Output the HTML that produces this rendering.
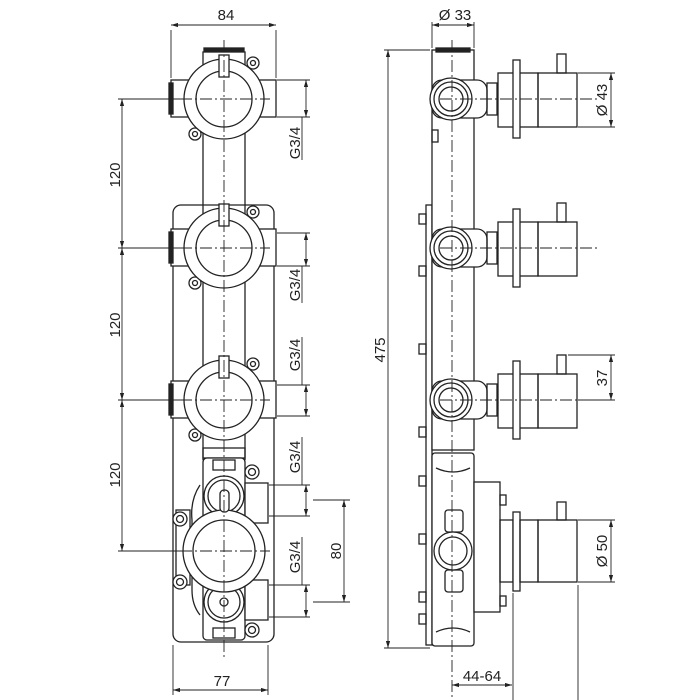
<!DOCTYPE html>
<html><head><meta charset="utf-8"><style>
html,body{margin:0;padding:0;background:#fff;}
svg{display:block;}
text{font-family:"Liberation Sans",sans-serif;font-size:15px;fill:#222;}
</style></head><body>
<svg width="700" height="700" viewBox="0 0 700 700" xmlns="http://www.w3.org/2000/svg">
<defs>
<marker id="a" viewBox="0 0 10 6" refX="10" refY="3" markerWidth="8" markerHeight="5" orient="auto-start-reverse"><path d="M0,0 L10,3 L0,6 z" fill="#222"/></marker>
</defs>
<g fill="none" stroke="#222" stroke-width="1.3">
<rect x="173" y="205" width="101" height="437" rx="8"/>
<line x1="203" y1="130" x2="203" y2="460"/><line x1="245" y1="130" x2="245" y2="460"/>
<rect x="204" y="48" width="40" height="10" fill="#222"/>
<rect x="203" y="52" width="42" height="30" fill="#fff"/>
<g id="v">
<rect x="171" y="80" width="105" height="37" fill="#fff"/>
<rect x="169" y="83" width="4" height="31" fill="#222"/>
<circle cx="253" cy="63" r="6" fill="#fff"/><circle cx="253" cy="63" r="2.5"/>
<circle cx="195" cy="134" r="6" fill="#fff"/><circle cx="195" cy="134" r="2.5"/>
<circle cx="224" cy="99" r="40" fill="#fff"/>
<circle cx="224" cy="99" r="28"/>
<rect x="219" y="55" width="10" height="22" fill="#fff"/>
</g>
<use href="#v" y="149"/>
<use href="#v" y="301"/>
<rect x="203" y="448" width="42" height="10"/>
<rect x="203" y="458" width="42" height="182" rx="4" fill="#fff"/>
<rect x="213" y="460" width="22" height="10"/><rect x="213" y="628" width="22" height="10"/>
<rect x="245" y="483" width="23" height="40" fill="#fff"/>
<rect x="245" y="580" width="23" height="40" fill="#fff"/>
<path d="M200,485 Q190,500 192,520 L192,590 Q192,605 200,615"/>
<rect x="176" y="510" width="14" height="75"/>
<circle cx="180" cy="519" r="7" fill="#fff"/><circle cx="180" cy="519" r="3.5"/>
<circle cx="180" cy="582" r="7" fill="#fff"/><circle cx="180" cy="582" r="3.5"/>
<circle cx="252" cy="472" r="7" fill="#fff"/><circle cx="252" cy="472" r="3.5"/>
<circle cx="252" cy="630" r="7" fill="#fff"/><circle cx="252" cy="630" r="3.5"/>
<circle cx="224" cy="496" r="20" fill="#fff"/><circle cx="224" cy="496" r="16"/>
<circle cx="224" cy="602" r="20" fill="#fff"/><circle cx="224" cy="602" r="16"/>
<circle cx="224" cy="602" r="4"/>
<circle cx="224" cy="551" r="41" fill="#fff"/><circle cx="224" cy="551" r="31"/>
<rect x="220" y="490" width="9" height="22" rx="4" fill="#fff"/>
<g stroke-width="0.9" stroke-dasharray="12,3,2,3">
<line x1="224" y1="40" x2="224" y2="660"/>
<line x1="180" y1="99" x2="270" y2="99"/>
<line x1="180" y1="248" x2="270" y2="248"/>
<line x1="180" y1="400" x2="270" y2="400"/>
<line x1="180" y1="551" x2="270" y2="551"/>
</g>
</g>
<g fill="none" stroke="#222" stroke-width="0.9">
<line x1="171" y1="30" x2="171" y2="78"/><line x1="276" y1="30" x2="276" y2="78"/>
<line x1="171" y1="25" x2="276" y2="25" marker-start="url(#a)" marker-end="url(#a)"/>
<line x1="118" y1="99" x2="190" y2="99"/><line x1="118" y1="248" x2="190" y2="248"/>
<line x1="118" y1="400" x2="190" y2="400"/><line x1="118" y1="551" x2="185" y2="551"/>
<line x1="122" y1="99" x2="122" y2="248" marker-start="url(#a)" marker-end="url(#a)"/>
<line x1="122" y1="248" x2="122" y2="400" marker-start="url(#a)" marker-end="url(#a)"/>
<line x1="122" y1="400" x2="122" y2="551" marker-start="url(#a)" marker-end="url(#a)"/>
<line x1="277" y1="80" x2="310" y2="80"/><line x1="277" y1="117" x2="310" y2="117"/>
<line x1="306" y1="80" x2="306" y2="117" marker-start="url(#a)" marker-end="url(#a)"/>
<line x1="302" y1="117" x2="302" y2="160"/>
<line x1="277" y1="233" x2="310" y2="233"/><line x1="277" y1="266" x2="310" y2="266"/>
<line x1="306" y1="233" x2="306" y2="266" marker-start="url(#a)" marker-end="url(#a)"/>
<line x1="302" y1="266" x2="302" y2="303"/>
<line x1="277" y1="385" x2="310" y2="385"/><line x1="277" y1="416" x2="310" y2="416"/>
<line x1="306" y1="385" x2="306" y2="416" marker-start="url(#a)" marker-end="url(#a)"/>
<line x1="302" y1="337" x2="302" y2="385"/>
<line x1="269" y1="485" x2="310" y2="485"/><line x1="269" y1="516" x2="310" y2="516"/>
<line x1="306" y1="485" x2="306" y2="516" marker-start="url(#a)" marker-end="url(#a)"/>
<line x1="302" y1="437" x2="302" y2="485"/>
<line x1="269" y1="585" x2="310" y2="585"/><line x1="269" y1="617" x2="310" y2="617"/>
<line x1="306" y1="585" x2="306" y2="617" marker-start="url(#a)" marker-end="url(#a)"/>
<line x1="302" y1="537" x2="302" y2="585"/>
<line x1="313" y1="500" x2="350" y2="500"/><line x1="313" y1="602" x2="350" y2="602"/>
<line x1="344" y1="500" x2="344" y2="602" marker-start="url(#a)" marker-end="url(#a)"/>
<line x1="173" y1="645" x2="173" y2="695"/><line x1="268" y1="645" x2="268" y2="695"/>
<line x1="173" y1="690" x2="268" y2="690" marker-start="url(#a)" marker-end="url(#a)"/>
</g>
<text x="226" y="20" text-anchor="middle">84</text>
<text x="222" y="686" text-anchor="middle">77</text>
<text transform="translate(120,175) rotate(-90)" text-anchor="middle">120</text>
<text transform="translate(120,325) rotate(-90)" text-anchor="middle">120</text>
<text transform="translate(120,475) rotate(-90)" text-anchor="middle">120</text>
<text transform="translate(300,143) rotate(-90)" text-anchor="middle">G3/4</text>
<text transform="translate(300,285) rotate(-90)" text-anchor="middle">G3/4</text>
<text transform="translate(300,355) rotate(-90)" text-anchor="middle">G3/4</text>
<text transform="translate(300,457) rotate(-90)" text-anchor="middle">G3/4</text>
<text transform="translate(300,557) rotate(-90)" text-anchor="middle">G3/4</text>
<text transform="translate(341,551) rotate(-90)" text-anchor="middle">80</text>

<g fill="none" stroke="#222" stroke-width="1.3">
<rect x="426" y="205" width="6" height="440"/>
<rect x="432" y="50" width="42" height="400" fill="#fff"/>
<rect x="436" y="48" width="34" height="4" fill="#222"/>
<g id="h">
<rect x="432" y="80" width="55" height="38" rx="10" fill="#fff"/>
<rect x="487" y="83" width="10" height="32"/>
<rect x="498" y="73" width="40" height="54" fill="#fff"/>
<rect x="513" y="60" width="7" height="78" fill="#fff"/>
<rect x="538" y="73" width="39" height="54"/>
<rect x="557" y="54" width="9" height="19"/>
<circle cx="451" cy="99" r="21" fill="#fff"/><circle cx="451" cy="99" r="17"/><circle cx="451" cy="99" r="12"/>
</g>
<use href="#h" y="149"/>
<use href="#h" y="301"/>
<rect x="432" y="130" width="6" height="12"/>
<g id="b"><rect x="419" y="214" width="7" height="10"/></g>
<use href="#b" y="52"/><use href="#b" y="130"/><use href="#b" y="213"/><use href="#b" y="262"/><use href="#b" y="320"/><use href="#b" y="378"/><use href="#b" y="400"/>
<rect x="432" y="453" width="42" height="193" rx="3" fill="#fff"/>
<path d="M436,468 Q453,476 470,468 M436,632 Q453,624 470,632"/>
<rect x="474" y="482" width="26" height="130" fill="#fff"/>
<rect x="500" y="520" width="13" height="62"/>
<rect x="513" y="512" width="7" height="79" fill="#fff"/>
<rect x="538" y="520" width="39" height="62"/>
<rect x="520" y="520" width="18" height="62"/>
<rect x="557" y="502" width="9" height="18"/>
<rect x="500" y="495" width="6" height="10"/><rect x="500" y="596" width="6" height="10"/>
<rect x="445" y="510" width="18" height="22" rx="3" fill="#fff"/>
<rect x="445" y="570" width="18" height="22" rx="3" fill="#fff"/>
<circle cx="453" cy="551" r="19" fill="#fff"/><circle cx="453" cy="551" r="14"/>
<g stroke-width="0.9" stroke-dasharray="12,3,2,3">
<line x1="452" y1="40" x2="452" y2="700"/>
<line x1="440" y1="99" x2="600" y2="99"/>
<line x1="440" y1="248" x2="600" y2="248"/>
<line x1="440" y1="400" x2="600" y2="400"/>
</g>
</g>
<g fill="none" stroke="#222" stroke-width="0.9">
<line x1="432" y1="22" x2="432" y2="48"/><line x1="474" y1="22" x2="474" y2="48"/>
<line x1="432" y1="25" x2="474" y2="25" marker-start="url(#a)" marker-end="url(#a)"/>
<line x1="384" y1="50" x2="430" y2="50"/><line x1="384" y1="648" x2="430" y2="648"/>
<line x1="388" y1="50" x2="388" y2="648" marker-start="url(#a)" marker-end="url(#a)"/>
<line x1="578" y1="73" x2="615" y2="73"/><line x1="578" y1="127" x2="615" y2="127"/>
<line x1="611" y1="73" x2="611" y2="127" marker-start="url(#a)" marker-end="url(#a)"/>
<line x1="568" y1="355" x2="615" y2="355"/><line x1="578" y1="400" x2="615" y2="400"/>
<line x1="611" y1="355" x2="611" y2="400" marker-start="url(#a)" marker-end="url(#a)"/>
<line x1="578" y1="520" x2="615" y2="520"/><line x1="578" y1="582" x2="615" y2="582"/>
<line x1="611" y1="520" x2="611" y2="582" marker-start="url(#a)" marker-end="url(#a)"/>
<line x1="513" y1="593" x2="513" y2="700"/><line x1="578" y1="585" x2="578" y2="700"/>
<line x1="452" y1="685" x2="512" y2="685" marker-start="url(#a)" marker-end="url(#a)"/>
</g>
<text x="455" y="20" text-anchor="middle">Ø 33</text>
<text x="482" y="681" text-anchor="middle">44-64</text>
<text transform="translate(385,350) rotate(-90)" text-anchor="middle">475</text>
<text transform="translate(607,100) rotate(-90)" text-anchor="middle">Ø 43</text>
<text transform="translate(607,378) rotate(-90)" text-anchor="middle">37</text>
<text transform="translate(607,551) rotate(-90)" text-anchor="middle">Ø 50</text>
</svg>
</body></html>
